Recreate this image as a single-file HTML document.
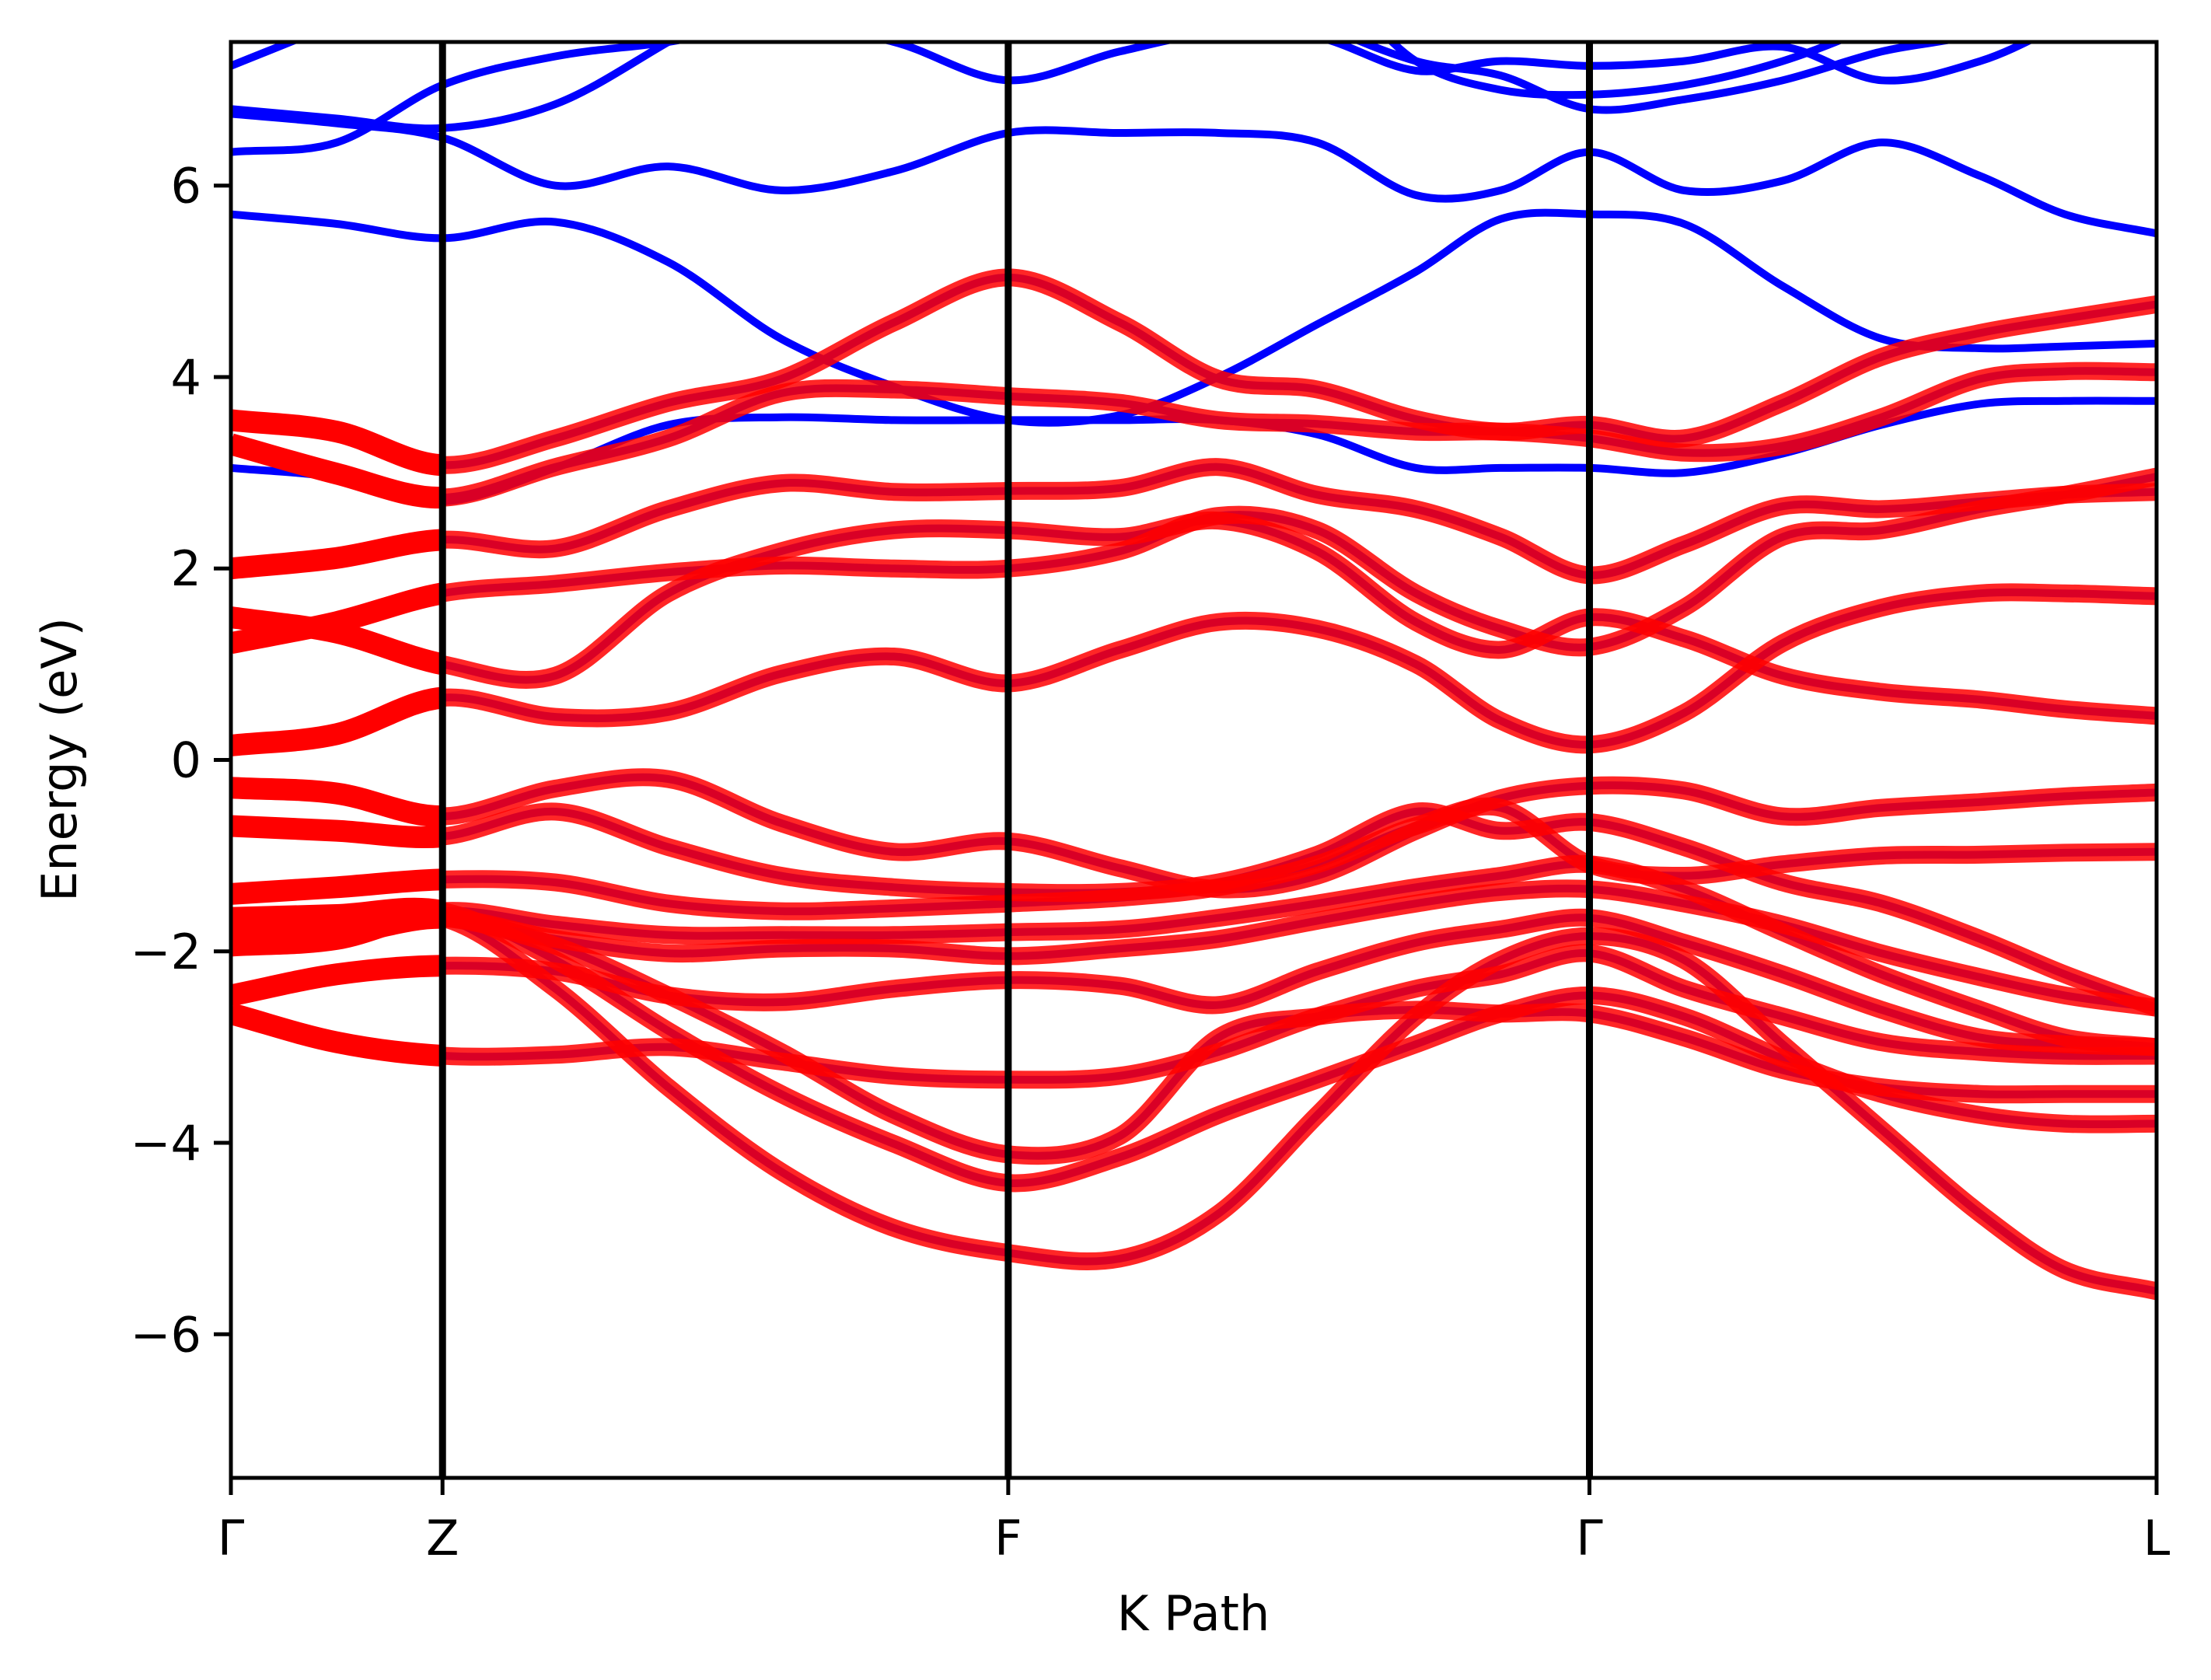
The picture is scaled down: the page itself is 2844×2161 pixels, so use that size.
<!DOCTYPE html>
<html><head><meta charset="utf-8">
<style>
html,body{margin:0;padding:0;background:#fff;}
svg{display:block;font-family:"DejaVu Sans","Liberation Sans",sans-serif;}
</style></head>
<body>
<svg id="chart" width="2844" height="2161" viewBox="0 0 2844 2161" xmlns="http://www.w3.org/2000/svg">
<defs><clipPath id="plotclip"><rect x="297" y="54" width="2477" height="1847"/></clipPath>
<clipPath id="gzclip"><rect x="297" y="54" width="272" height="1847"/></clipPath></defs>
<rect x="0" y="0" width="2844" height="2161" fill="#fff"/>
<g id="blue" clip-path="url(#plotclip)"></g>
<g id="red" clip-path="url(#plotclip)"></g>
<g id="vlines"></g>
<rect x="297" y="54" width="2477" height="1847" fill="none" stroke="#000" stroke-width="5"/>
<g id="yticks"></g>
<g id="xticks"></g>
<text x="1535" y="2097" font-size="62" text-anchor="middle">K Path</text>
<text x="0" y="0" font-size="62" text-anchor="middle" transform="translate(98,977) rotate(-90)">Energy (eV)</text>
</svg>
<script>
const kGrid = [0,75,150,230,310,390,470,551,630,700,770,840,900,963,1030,1100,1170,1240,1300,1365];
const kLabels = ["Γ","Z","F","Γ","L"];
const kLabelPos = [0,150,551,963,1365];
const yTicks = [-6,-4,-2,0,2,4,6];
const redBands = [
[-1.90,-1.80,-1.65,-2.39,-3.42,-4.30,-4.89,-5.15,-5.21,-4.74,-3.71,-2.68,-2.09,-1.84,-2.09,-2.97,-3.86,-4.74,-5.33,-5.55],
[-1.65,-1.62,-1.58,-2.09,-2.83,-3.49,-4.01,-4.42,-4.15,-3.71,-3.34,-2.97,-2.65,-2.46,-2.68,-3.12,-3.49,-3.71,-3.80,-3.80],
[-1.80,-1.72,-1.65,-1.94,-2.46,-3.05,-3.71,-4.12,-3.93,-2.90,-2.68,-2.61,-2.65,-2.65,-2.90,-3.24,-3.42,-3.49,-3.49,-3.49],
[-2.65,-2.95,-3.09,-3.08,-3.00,-3.15,-3.30,-3.34,-3.30,-3.05,-2.68,-2.39,-2.24,-2.02,-2.39,-2.68,-2.95,-3.05,-3.09,-3.09],
[-2.46,-2.24,-2.15,-2.21,-2.46,-2.53,-2.39,-2.30,-2.36,-2.56,-2.21,-1.91,-1.77,-1.65,-1.91,-2.24,-2.61,-2.90,-2.97,-3.00],
[-1.90,-1.83,-1.65,-1.87,-2.02,-1.97,-1.97,-2.05,-1.97,-1.87,-1.68,-1.50,-1.38,-1.35,-1.50,-1.72,-2.02,-2.27,-2.46,-2.59],
[-1.94,-1.87,-1.58,-1.72,-1.83,-1.83,-1.83,-1.80,-1.77,-1.65,-1.50,-1.33,-1.21,-1.09,-1.35,-1.80,-2.24,-2.61,-2.90,-3.00],
[-1.40,-1.33,-1.25,-1.28,-1.50,-1.58,-1.55,-1.50,-1.44,-1.33,-1.09,-0.69,-0.50,-1.09,-1.21,-1.09,-1.00,-0.99,-0.97,-0.96],
[-0.69,-0.74,-0.80,-0.54,-0.91,-1.21,-1.33,-1.38,-1.38,-1.28,-0.99,-0.54,-0.74,-0.65,-0.91,-1.28,-1.50,-1.87,-2.24,-2.59],
[-0.29,-0.35,-0.59,-0.30,-0.20,-0.66,-0.96,-0.85,-1.13,-1.35,-1.21,-0.74,-0.40,-0.27,-0.32,-0.59,-0.50,-0.44,-0.38,-0.34],
[0.15,0.27,0.65,0.45,0.50,0.90,1.08,0.80,1.15,1.44,1.37,1.00,0.41,0.16,0.49,1.22,1.59,1.74,1.74,1.71],
[1.49,1.33,1.00,0.88,1.74,2.18,2.40,2.40,2.33,2.50,2.18,1.44,1.15,1.49,1.27,0.88,0.71,0.63,0.53,0.46],
[1.22,1.44,1.74,1.84,1.96,2.03,2.00,2.00,2.18,2.55,2.40,1.74,1.37,1.18,1.59,2.33,2.40,2.62,2.77,2.96],
[2.00,2.11,2.30,2.21,2.62,2.89,2.80,2.81,2.84,3.06,2.77,2.62,2.33,1.93,2.25,2.65,2.62,2.70,2.77,2.80],
[3.55,3.43,3.08,3.36,3.73,3.98,4.57,5.04,4.57,3.98,3.87,3.56,3.43,3.50,3.36,3.73,4.21,4.46,4.61,4.76],
[3.30,2.99,2.74,3.06,3.36,3.83,3.87,3.80,3.73,3.55,3.51,3.43,3.43,3.36,3.21,3.28,3.58,3.98,4.06,4.05]
];
const blueOnlyBands = [
[5.70,5.60,5.45,5.62,5.20,4.40,3.90,3.55,3.60,4.00,4.55,5.10,5.65,5.70,5.60,4.95,4.40,4.30,4.32,4.35],
[3.05,2.95,2.70,3.05,3.50,3.58,3.55,3.55,3.55,3.55,3.40,3.05,3.05,3.05,3.00,3.20,3.50,3.72,3.75,3.75],
[6.75,6.65,6.50,6.00,6.20,5.95,6.15,6.55,6.55,6.55,6.45,5.90,5.95,6.35,5.95,6.05,6.45,6.10,5.70,5.50],
[6.35,6.45,7.05,7.35,7.50,7.70,7.50,7.10,7.40,7.60,7.55,7.20,7.30,7.25,7.30,7.45,7.10,7.30,7.70,8.20],
[6.80,6.70,6.60,6.85,7.50,8.20,8.20,8.20,8.20,8.20,8.20,7.30,7.00,6.95,7.05,7.30,7.70,8.20,8.20,8.20],
[7.25,7.70,8.20,8.20,8.20,8.20,8.20,8.20,8.20,8.20,7.70,7.30,7.15,6.80,6.90,7.10,7.40,7.60,8.00,8.20]
];
const X0=297,X1=2774,Y0=54,Y1=1901,KMAX=1365,EMIN=-7.5,EMAX=7.5;
function xs(k){return X0+(k/KMAX)*(X1-X0);}
function ys(e){return Y0+(EMAX-e)/(EMAX-EMIN)*(Y1-Y0);}
const NS="http://www.w3.org/2000/svg";
function pathFor(vals){
  const p=vals.map((v,i)=>[xs(kGrid[i]),ys(v)]);
  let d="M"+p[0][0].toFixed(1)+","+p[0][1].toFixed(1);
  for(let i=0;i<p.length-1;i++){
    const p0=p[Math.max(0,i-1)],p1=p[i],p2=p[i+1],p3=p[Math.min(p.length-1,i+2)];
    const h=p2[0]-p1[0];
    const s1=(p2[1]-p0[1])/(p2[0]-p0[0]||1);
    const s2=(p3[1]-p1[1])/(p3[0]-p1[0]||1);
    const c1=[p1[0]+h/3,p1[1]+s1*h/3];
    const c2=[p2[0]-h/3,p2[1]-s2*h/3];
    d+=" C"+c1[0].toFixed(1)+","+c1[1].toFixed(1)+" "+c2[0].toFixed(1)+","+c2[1].toFixed(1)+" "+p2[0].toFixed(1)+","+p2[1].toFixed(1);
  }
  return d;
}
const gB=document.getElementById("blue"),gR=document.getElementById("red");
blueOnlyBands.concat(redBands).forEach((b,i)=>{
  const el=document.createElementNS(NS,"path");
  el.setAttribute("d",pathFor(b));
  el.setAttribute("fill","none");el.setAttribute("stroke","#0000ff");el.setAttribute("stroke-width","10");
  
  
  gB.appendChild(el);
});
redBands.forEach((b,i)=>{
  const el=document.createElementNS(NS,"path");
  el.setAttribute("d",pathFor(b));
  el.setAttribute("fill","none");el.setAttribute("stroke","#ff0000");el.setAttribute("stroke-opacity","0.85");el.setAttribute("stroke-width","23");
  
  
  gR.appendChild(el);
  const el2=document.createElementNS(NS,"path");
  el2.setAttribute("d",pathFor(b));
  el2.setAttribute("fill","none");el2.setAttribute("stroke","#ff0000");el2.setAttribute("stroke-width","28");
  el2.setAttribute("clip-path","url(#gzclip)");
  
  
  gR.appendChild(el2);
});
const gV=document.getElementById("vlines"),gX=document.getElementById("xticks"),gY=document.getElementById("yticks");
kLabelPos.forEach((k,i)=>{
  const x=xs(k);
  if(i>0&&i<kLabelPos.length-1){
    const l=document.createElementNS(NS,"line");
    l.setAttribute("x1",x);l.setAttribute("x2",x);l.setAttribute("y1",Y0);l.setAttribute("y2",Y1);
    l.setAttribute("stroke","#000");l.setAttribute("stroke-width","9");
    
    
    gV.appendChild(l);
  }
  const t=document.createElementNS(NS,"line");
  t.setAttribute("x1",x);t.setAttribute("x2",x);t.setAttribute("y1",Y1);t.setAttribute("y2",Y1+22);
  t.setAttribute("stroke","#000");t.setAttribute("stroke-width","5");
  
  
  gX.appendChild(t);
  const tx=document.createElementNS(NS,"text");
  tx.setAttribute("x",x);tx.setAttribute("y",2000);tx.setAttribute("font-size","62");tx.setAttribute("text-anchor","middle");
  tx.textContent=kLabels[i];
  
  
  gX.appendChild(tx);
});
yTicks.forEach(v=>{
  const y=ys(v);
  const t=document.createElementNS(NS,"line");
  t.setAttribute("x1",X0-22);t.setAttribute("x2",X0);t.setAttribute("y1",y);t.setAttribute("y2",y);
  t.setAttribute("stroke","#000");t.setAttribute("stroke-width","5");
  
  
  gY.appendChild(t);
  const tx=document.createElementNS(NS,"text");
  tx.setAttribute("x",X0-38);tx.setAttribute("y",y+22);tx.setAttribute("font-size","62");tx.setAttribute("text-anchor","end");
  tx.textContent=(v<0?"\u2212":"")+Math.abs(v);
  
  
  gY.appendChild(tx);
});
</script>
</body></html>
